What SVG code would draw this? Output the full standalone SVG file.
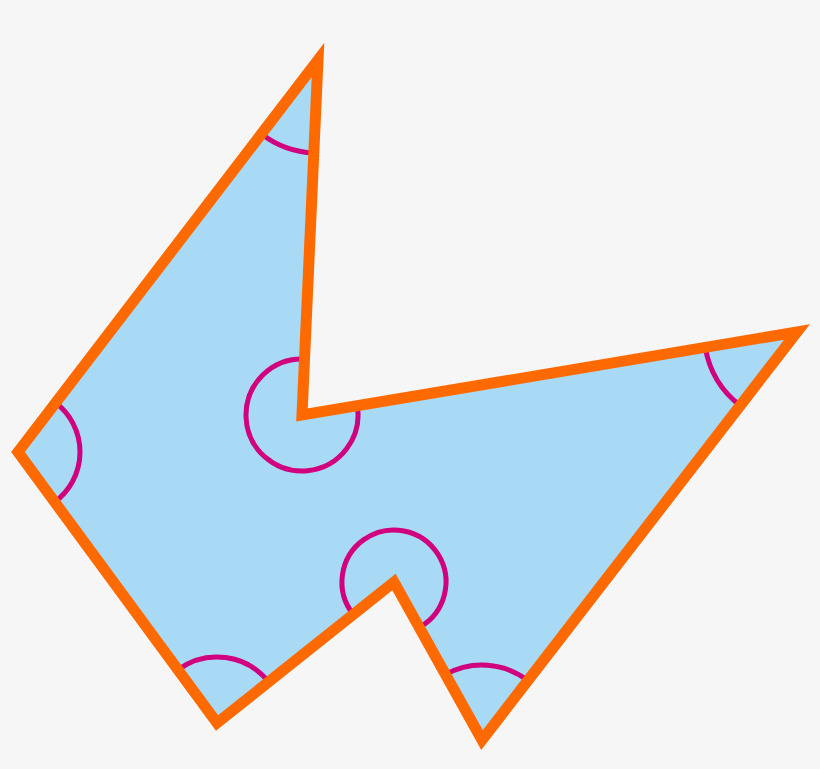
<svg xmlns="http://www.w3.org/2000/svg" width="820" height="769" viewBox="0 0 820 769">
<style>
.fill{fill:#a8daf5;stroke:none}
.edge{fill:none;stroke:#ff6a00;stroke-width:11;stroke-linejoin:miter;stroke-miterlimit:10}
.ang{fill:none;stroke:#d0007f;stroke-width:5}
</style>
<rect width="820" height="769" fill="#f6f6f6"/>
<g id="shape">
<polygon class="fill" points="318,60 302,415 797,332 482,740 394,582 217,723 18,452"/>
</g>
<g id="angles">
<path class="ang" d="M261.5,133.9 A93,93 0 0 0 313.8,152.9"/>
<path class="ang" d="M304.5,359.1 A56,56 0 1 0 357.2,405.7"/>
<path class="ang" d="M705.3,347.4 A93,93 0 0 0 740.2,405.6"/>
<path class="ang" d="M445.5,674.5 A75,75 0 0 1 527.8,680.6"/>
<path class="ang" d="M353.3,614.4 A52,52 0 1 1 419.3,627.4"/>
<path class="ang" d="M177.9,669.8 A66,66 0 0 1 268.6,681.9"/>
<path class="ang" d="M55.7,402.8 A62,62 0 0 1 54.7,502"/>
</g>
<g id="outline">
<polygon class="edge" points="318,60 302,415 797,332 482,740 394,582 217,723 18,452"/>
</g>
</svg>
